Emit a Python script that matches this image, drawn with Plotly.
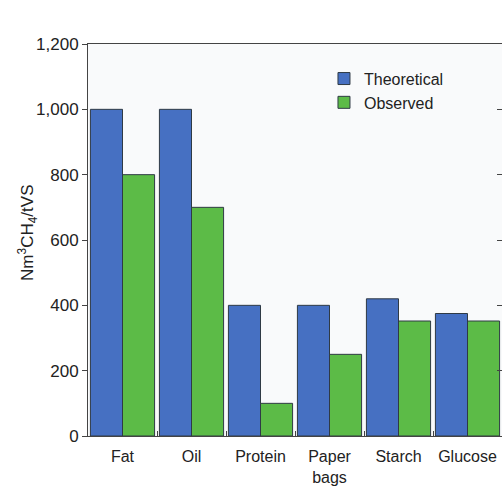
import plotly.graph_objects as go

categories = ["Fat", "Oil", "Protein", "Paper<br>bags", "Starch", "Glucose"]
theoretical = [1000, 1000, 400, 400, 420, 375]
observed = [800, 700, 100, 250, 352, 352]
y_ticks = [0, 200, 400, 600, 800, 1000, 1200]
y_title = "Nm<sup>3</sup>CH<sub>4</sub>/tVS"

FONT = "Liberation Sans, Arial, sans-serif"
fig = go.Figure()
fig.add_trace(go.Bar(x=categories, y=theoretical, name="Theoretical",
                     marker=dict(color="#4670c2", line=dict(color="#2f3a45", width=1))))
fig.add_trace(go.Bar(x=categories, y=observed, name="Observed",
                     marker=dict(color="#5cbb47", line=dict(color="#2f3a45", width=1))))
# invisible trace to carry the right-hand axis
fig.add_trace(go.Scatter(x=[categories[0]], y=[0], yaxis="y2", mode="markers",
                         marker=dict(opacity=0), showlegend=False, hoverinfo="skip"))

fig.add_annotation(text=y_title, xref="paper", yref="paper", x=-0.145, y=0.518,
                   xanchor="center", yanchor="middle", textangle=-90,
                   showarrow=False, font=dict(size=17))

fig.update_layout(
    width=503, height=489,
    margin=dict(l=88, r=1, t=44, b=53, autoexpand=False),
    paper_bgcolor="white", plot_bgcolor="#f9fafb",
    barmode="group", bargap=0.07, bargroupgap=0,
    font=dict(family=FONT, size=16, color="#222"),
    legend=dict(x=0.57, y=0.955, xanchor="left", yanchor="top",
                bgcolor="rgba(0,0,0,0)", font=dict(size=16), tracegroupgap=0,
                itemwidth=30),
    separators=".,",
    xaxis=dict(showline=True, linecolor="#444", linewidth=1, mirror=True,
               ticks="inside", tickson="boundaries", ticklen=5, tickcolor="#444",
               showgrid=False, ticklabelstandoff=6, tickfont=dict(size=16)),
    yaxis=dict(range=[0, 1200], tickvals=y_ticks, tickformat=",", showline=True,
               linecolor="#444", linewidth=1, ticks="outside", ticklen=5,
               tickcolor="#444", showgrid=False, zeroline=False,
               tickfont=dict(size=17)),
    yaxis2=dict(range=[0, 1200], tickvals=y_ticks, overlaying="y", side="right",
                showticklabels=False, ticks="inside", ticklen=5, tickcolor="#444",
                showgrid=False, zeroline=False, showline=False),
)
fig.write_html("out.html", config={"displayModeBar": False},
               post_script="document.body.style.margin='0';document.body.style.overflow='hidden';")
